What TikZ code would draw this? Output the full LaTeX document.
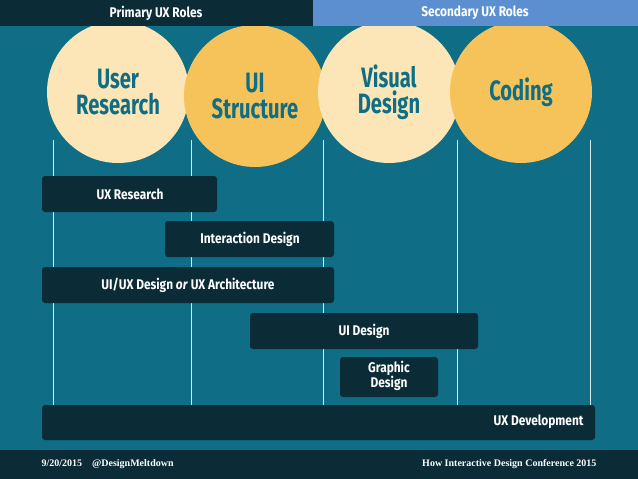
\documentclass[tikz,border=0pt]{standalone}
\usepackage{fontspec}
\setmainfont{Fira Sans}
\definecolor{bg}{HTML}{0F6D85}
\definecolor{dark}{HTML}{0B2B36}
\definecolor{blu}{HTML}{5B8FD0}
\definecolor{cream}{HTML}{FCE5B6}
\definecolor{yel}{HTML}{F6C25A}
\begin{document}
\begin{tikzpicture}[x=1pt,y=-1pt,
  circ/.style={circle,minimum size=142pt,inner sep=0pt,text=bg,font=\bfseries\fontsize{28}{26}\selectfont,align=center},
  bar/.style={fill=dark,rounded corners=3pt},
  lbl/.style={text=white,font=\bfseries\fontsize{14}{14}\selectfont,align=center},
  vline/.style={draw=white!85!bg,line width=0.8pt}]
\fill[bg] (0,0) rectangle (638,479);
\useasboundingbox (0,0) rectangle (638,479);
\foreach \x in {53,191,323,457,590} \draw[vline] (\x,140) -- (\x,405);
\node[circ,fill=cream] (c1) at (118,92) {\scalebox{0.72}[1]{User}\\\scalebox{0.72}[1]{Research}};
\node[circ,fill=yel] (c2) at (255,96) {\scalebox{0.72}[1]{UI}\\\scalebox{0.72}[1]{Structure}};
\node[circ,fill=cream] (c3) at (389,92) {\scalebox{0.72}[1]{Visual}\\\scalebox{0.72}[1]{Design}};
\node[circ,fill=yel] (c4) at (521,92) {\scalebox{0.72}[1]{Coding}};
\fill[dark] (0,0) rectangle (313,26);
\fill[blu] (313,0) rectangle (638,26);
\node[lbl] (p) at (156,13) {\scalebox{0.85}[1]{Primary UX Roles}};
\node[lbl] (s) at (475,13) {\scalebox{0.85}[1]{Secondary UX Roles}};
\fill[bar] (42,176) rectangle (217,212);
\node[lbl] (b1) at (130,194) {\scalebox{0.85}[1]{UX Research}};
\fill[bar] (165,221) rectangle (334,257);
\node[lbl] (b2) at (250,239) {\scalebox{0.85}[1]{Interaction Design}};
\fill[bar] (42,267) rectangle (334,303);
\node[lbl] (b3) at (188,285) {\scalebox{0.85}[1]{UI/UX Design \textit{or} UX Architecture}};
\fill[bar] (250,313) rectangle (478,349);
\node[lbl] (b4) at (364,331) {\scalebox{0.85}[1]{UI Design}};
\fill[bar] (340,357) rectangle (438,397);
\node[lbl,font=\bfseries\fontsize{14}{15}\selectfont] (b5) at (389,376) {\scalebox{0.85}[1]{Graphic}\\\scalebox{0.85}[1]{Design}};
\fill[bar] (42,405) rectangle (595,440);
\node[lbl,anchor=east] (b6) at (587,422) {\scalebox{0.85}[1]{UX Development}};
\fill[dark] (0,450) rectangle (638,479);
\node[text=white,font=\fontsize{10}{10}\selectfont\rmfamily,anchor=west] (f1) at (38,464) {\fontspec{Liberation Serif}\bfseries 9/20/2015\quad @DesignMeltdown};
\node[text=white,font=\fontsize{10}{10}\selectfont,anchor=east] (f2) at (600,464) {\fontspec{Liberation Serif}\bfseries How Interactive Design Conference 2015};
\end{tikzpicture}
\end{document}
